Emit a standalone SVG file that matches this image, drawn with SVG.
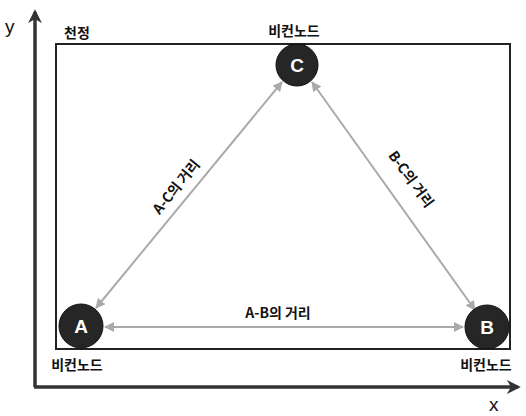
<svg xmlns="http://www.w3.org/2000/svg" width="526" height="416" viewBox="0 0 526 416">
<style>
.t{font-family:"Noto Sans CJK KR","Noto Sans",sans-serif;font-size:14px;font-weight:bold;fill:#111}
.ax{font-family:"Liberation Sans",sans-serif;font-size:19px;fill:#111}
.node{fill:#262626;stroke:#111;stroke-width:1}
.lt{font-family:"Liberation Sans",sans-serif;font-size:19px;font-weight:bold;fill:#fff;text-anchor:middle}
.conn{stroke:#aaa;stroke-width:2;fill:none;marker-start:url(#g);marker-end:url(#g)}
.axis{stroke:#333;stroke-width:3.5;fill:none;marker-end:url(#k)}
</style>
<defs>
<marker id="g" viewBox="0 0 10 10" refX="9" refY="5" markerWidth="5" markerHeight="5" orient="auto-start-reverse"><path d="M0,0 L10,5 L0,10 z" fill="#aaa"/></marker>
<marker id="k" viewBox="0 0 10 10" refX="8" refY="5" markerWidth="4" markerHeight="4" orient="auto"><path d="M0,0 L10,5 L0,10 L3,5 z" fill="#333"/></marker>
</defs>
<rect width="526" height="416" fill="#fff"/>
<g id="axes">
<path class="axis" d="M35,387 L35,12"/>
<path class="axis" d="M34,387 L518,387"/>
<text class="ax" x="5" y="33">y</text>
<text class="ax" x="489" y="411">x</text>
</g>
<g id="ceiling">
<rect x="56" y="44" width="454" height="305" fill="none" stroke="#222" stroke-width="2"/>
<text class="t" x="64" y="38">천정</text>
</g>
<g id="connectors">
<line class="conn" x1="96" y1="308" x2="282" y2="82"/>
<line class="conn" x1="312" y1="82" x2="475" y2="310"/>
<line class="conn" x1="105" y1="327" x2="463" y2="327"/>
<text class="t" x="278" y="318" text-anchor="middle">A-B의 거리</text>
<text class="t" text-anchor="middle" transform="translate(180,190) rotate(-51)">A-C의 거리</text>
<text class="t" text-anchor="middle" transform="translate(407,182) rotate(54)">B-C의 거리</text>
</g>
<g id="nodeC">
<circle class="node" cx="297" cy="65" r="21"/>
<text class="lt" x="297" y="72">C</text>
<text class="t" x="294" y="36" text-anchor="middle">비컨노드</text>
</g>
<g id="nodeA">
<circle class="node" cx="81" cy="326" r="22"/>
<text class="lt" x="81" y="333">A</text>
<text class="t" x="77" y="370" text-anchor="middle">비컨노드</text>
</g>
<g id="nodeB">
<circle class="node" cx="487" cy="327" r="22"/>
<text class="lt" x="487" y="334">B</text>
<text class="t" x="486" y="370" text-anchor="middle">비컨노드</text>
</g>
</svg>
